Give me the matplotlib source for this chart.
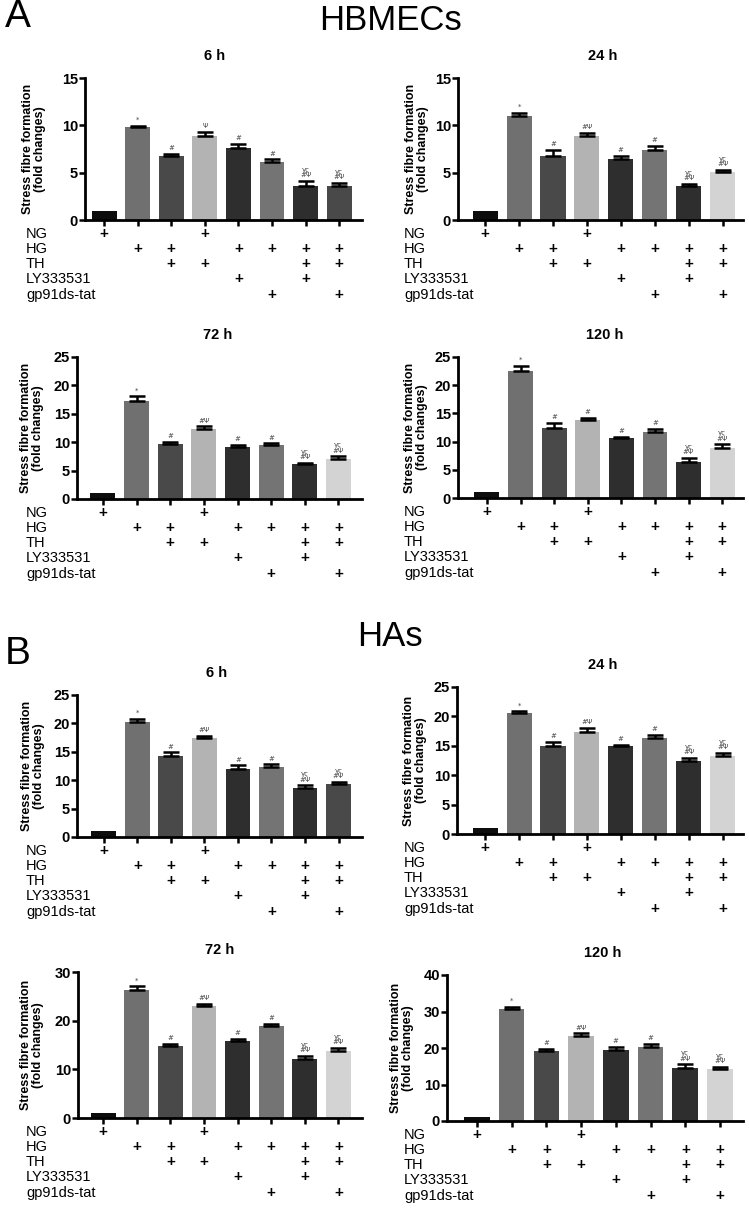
import matplotlib
matplotlib.use("Agg")
import matplotlib.pyplot as plt
import numpy as np

plt.rcParams['font.family'] = ['Liberation Sans', 'DejaVu Sans']

W, H = 749, 1211

# treatment table (which groups get which treatment)
treatments = ["NG", "HG", "TH", "LY333531", "gp91ds-tat"]
treat_marks = [
    [0, 3],
    [1, 2, 4, 5, 6, 7],
    [2, 3, 6, 7],
    [4, 6],
    [5, 7],
]

# bar means
a6_mean = [1.0, 9.8, 6.8, 8.9, 7.6, 6.1, 3.55, 3.6]
a6_err = [0, 0.15, 0.15, 0.4, 0.45, 0.3, 0.55, 0.3]
a24_mean = [1.0, 11.0, 6.8, 8.9, 6.4, 7.4, 3.6, 5.05]
a24_err = [0, 0.3, 0.6, 0.3, 0.4, 0.4, 0.2, 0.25]
a72_mean = [1.0, 17.2, 9.7, 12.3, 9.2, 9.5, 6.1, 7.1]
a72_err = [0, 0.9, 0.3, 0.5, 0.3, 0.3, 0.25, 0.4]
a120_mean = [1.0, 22.5, 12.4, 13.8, 10.6, 11.7, 6.3, 8.9]
a120_err = [0, 0.9, 0.9, 0.4, 0.3, 0.5, 0.8, 0.6]
b6_mean = [1.0, 20.2, 14.3, 17.4, 11.9, 12.4, 8.7, 9.4]
b6_err = [0, 0.6, 0.6, 0.4, 0.7, 0.4, 0.4, 0.25]
b24_mean = [1.0, 20.6, 15.0, 17.4, 14.9, 16.4, 12.5, 13.35]
b24_err = [0, 0.25, 0.6, 0.6, 0.2, 0.5, 0.5, 0.4]
b72_mean = [1.0, 26.4, 14.8, 23.0, 15.8, 18.9, 12.1, 13.8]
b72_err = [0, 0.7, 0.5, 0.4, 0.4, 0.5, 0.65, 0.6]
b120_mean = [1.0, 30.6, 19.2, 23.4, 19.5, 20.4, 14.6, 14.25]
b120_err = [0, 0.7, 0.6, 0.6, 0.8, 0.8, 0.9, 0.65]

# significance marks
sig_a6 = ["", "*", "#", "Ψ", "#", "#", "γς\n#Ψ", "γς\n#Ψ"]
sig_std = ["", "*", "#", "#Ψ", "#", "#", "γς\n#Ψ", "γς\n#Ψ"]
sig_a120 = ["", "*", "#", "#", "#", "#", "γς\n#Ψ", "γς\n#Ψ"]

col_dark8 = ["#0d0d0d", "#707070", "#494949", "#b3b3b3", "#2e2e2e", "#747474", "#2e2e2e", "#494949"]
col_light8 = ["#0d0d0d", "#707070", "#494949", "#b3b3b3", "#2e2e2e", "#747474", "#2e2e2e", "#d3d3d3"]

# panel: title, means, errs, sigs, colors, ymax, ystep, axis box px (x0, x1, ytop, ybot), xlim, title x, ylabel x, table x
panels = [
    ("6 h", a6_mean, a6_err, sig_a6, col_dark8, 15, 5, (85, 362, 78, 220), (-0.57, 7.68), 215, 34, 26),
    ("24 h", a24_mean, a24_err, sig_std, col_light8, 15, 5, (458, 743, 78, 220), (-0.8, 7.6), 603, 417, 404),
    ("72 h", a72_mean, a72_err, sig_std, col_light8, 25, 5, (77, 362, 357, 499), (-0.77, 7.7), 218, 32, 26),
    ("120 h", a120_mean, a120_err, sig_a120, col_light8, 25, 5, (458, 743, 357, 498), (-0.86, 7.62), 605, 416, 404),
    ("6 h", b6_mean, b6_err, sig_std, col_dark8, 25, 5, (77, 362, 695, 837), (-0.8, 7.7), 217, 33, 26),
    ("24 h", b24_mean, b24_err, sig_std, col_light8, 25, 5, (457, 743, 687, 834), (-0.83, 7.6), 603, 415, 404),
    ("72 h", b72_mean, b72_err, sig_std, col_light8, 30, 10, (78, 362, 972, 1118), (-0.75, 7.7), 220, 32, 26),
    ("120 h", b120_mean, b120_err, sig_std, col_light8, 40, 10, (447, 743, 975, 1121), (-0.86, 7.66), 603, 402, 404),
]

row_offsets = [14, 29, 44, 59, 75]

fig = plt.figure(figsize=(W / 100, H / 100), dpi=100)

for title, means, errs, sigs, cols, ymax, ystep, box, xl, tx, lx, tabx in panels:
    x0, x1, yt, yb = box
    ax = fig.add_axes([x0 / W, 1 - yb / H, (x1 - x0) / W, (yb - yt) / H])
    xs = np.arange(len(means))
    ax.bar(xs, means, width=0.74, color=cols, zorder=2)
    ax.errorbar(xs[1:], means[1:], yerr=[np.zeros(len(xs) - 1), errs[1:]], fmt="none",
                ecolor="black", elinewidth=1.8, capsize=5.5, capthick=1.8, zorder=3)
    for i in xs:
        if sigs[i]:
            ax.annotate(sigs[i], (i, means[i] + errs[i]), xytext=(0, 2), textcoords="offset points",
                        ha="center", va="bottom", fontsize=5, color="#444444",
                        family=["DejaVu Sans"], linespacing=0.85)
    ax.set_ylim(0, ymax)
    ax.set_xlim(*xl)
    ax.set_yticks(np.arange(0, ymax + 1, ystep))
    ax.set_xticks(xs)
    ax.set_xticklabels([])
    for lbl in ax.get_yticklabels():
        lbl.set_fontweight("bold")
    ax.tick_params(axis="y", labelsize=10.5, width=1.8, length=4, pad=1)
    ax.tick_params(axis="x", width=1.8, length=4)
    for s in ["top", "right"]:
        ax.spines[s].set_visible(False)
    for s in ["left", "bottom"]:
        ax.spines[s].set_linewidth(2)

    fig.text(tx / W, 1 - (yt - 22) / H, title, ha="center", va="center", fontsize=10.5, fontweight="bold")
    fig.text(lx / W, 1 - ((yt + yb) / 2) / H, "Stress fibre formation\n(fold changes)",
             rotation=90, ha="center", va="center", fontsize=9, fontweight="bold", linespacing=1.05)

    # treatment rows
    for r, name in enumerate(treatments):
        ypx = yb + row_offsets[r]
        fig.text(tabx / W, 1 - ypx / H, name, ha="left", va="center", fontsize=10.5)
        for i in treat_marks[r]:
            ax.annotate("+", (i, 0), xycoords=("data", "axes fraction"),
                        xytext=(0, -row_offsets[r] * 0.72), textcoords="offset points",
                        ha="center", va="center", fontsize=11, fontweight="bold")

fig.text(5 / W, 1 - 17 / H, "A", ha="left", va="center", fontsize=28)
fig.text(390 / W, 1 - 20 / H, "HBMECs", ha="center", va="center", fontsize=25)
fig.text(5 / W, 1 - 654 / H, "B", ha="left", va="center", fontsize=28)
fig.text(390 / W, 1 - 637 / H, "HAs", ha="center", va="center", fontsize=25)

fig.savefig("out.png", dpi=100)
